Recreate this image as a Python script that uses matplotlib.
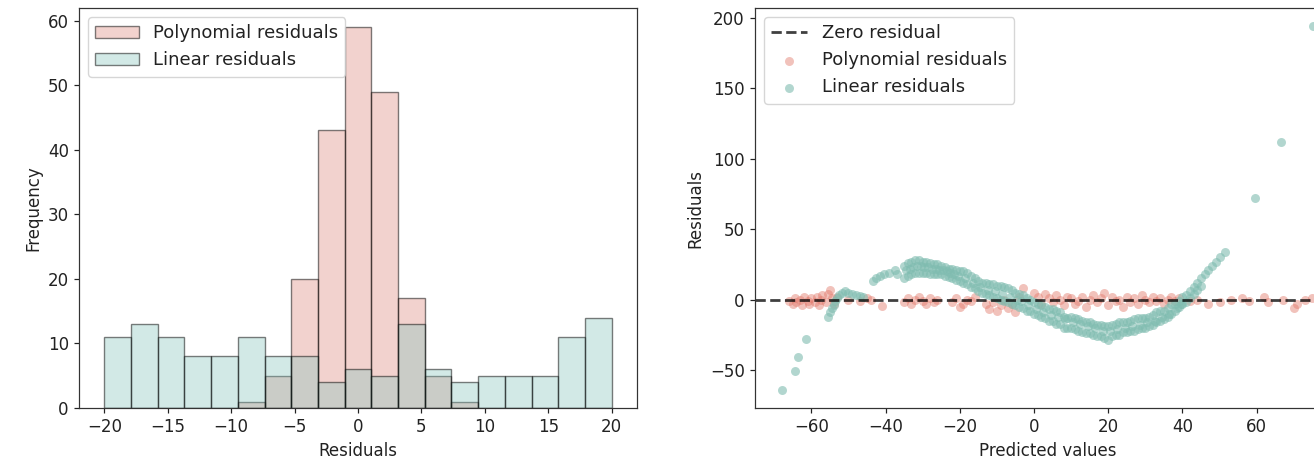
#%% Residual comparison: polynomial vs linear fit
import numpy as np
import matplotlib
matplotlib.use('Agg')
import matplotlib.pyplot as plt

# Histogram: counts per bin, 19 equal bins between -20 and 20
bin_edges = np.linspace(-20, 20, 20)
poly_counts = [0, 0, 0, 0, 0, 1, 5, 20, 43, 59, 49, 17, 5, 1, 0, 0, 0, 0, 0]
lin_counts = [11, 13, 11, 8, 8, 11, 8, 8, 4, 6, 5, 13, 6, 4, 5, 5, 5, 11, 14]

# Scatter: (predicted value, residual)
poly_x = [-66, -65, -64.5, -64, -63, -62.5, -62, -61, -60.5, -60, -59, -58.5, -58, -57.5, -57,
          -56, -55.5, -55, -54.5, -54, -53, -50, -47, -45, -44, -40.9,
          -35, -34, -33, -32, -31, -30, -29, -28, -27, -26,
          -22, -21, -20, -19, -18, -17, -16,
          -13, -12, -11, -10, -9, -8, -7, -6, -5, -4, -3,
          0, 1, 2, 3, 4, 5, 6, 7, 8, 9, 10, 11, 12, 13, 14, 15, 16, 17, 18, 19,
          20, 21, 22, 23, 24, 25, 26, 27, 28, 29, 30, 31, 32, 33, 34, 35, 36, 37, 38, 39,
          42, 44, 47, 50, 53, 56, 58, 62, 63, 67, 70, 71, 73, 75]
poly_y = [-1, -3, 1, -2, 0, -4, 2, -1, -3, 1, -2, 2, -4, 0, 3,
          -2, 4, 7, 1, -3, 2, 0, -1, 1, 0, -4.7,
          -2, 1, -3, 0, 2, -1, -3, 1, -2, 0,
          -2, 1, -5, -3, 0, -1, 2,
          -3, -7, -2, -8, -4, 0, -6, -3, -9, 2, 8,
          5, 2, -3, 4, 1, -2, 3, 0, -4, 2, 1, -3, -1, 2, -5, 0, 3, -2, 1, 5,
          -4, 2, -1, 0, -5, 2, -2, 1, -3, 3, 0, -2, 2, -1, 1, -3, 0, 2, -1, 1,
          -1, 0, -3, -2, 0, 1, -1, 2, -2, 0, -6, -3, 0, 1]

lin_x = [-68, -64.5, -63.5, -61.5,
         -55.5, -55, -54.5, -54, -53.5, -53, -52.5, -51.8, -51, -50, -49, -48, -47, -46,
         -43.5, -42.5, -41.5, -40.5, -39, -37.5, -37,
         -35, -34, -33, -32, -31, -30, -29, -28, -27, -26, -25, -24, -23, -22, -21, -20,
         -35, -34, -33, -32, -31, -30, -29, -28, -27, -26, -25, -24, -23, -22, -21, -20,
         -34.5, -33.5, -32.5, -31.5, -30.5, -29.5, -28.5, -27.5, -26.5, -25.5, -24.5, -23.5, -22.5, -21.5, -20.5,
         -19, -18, -17, -16, -15, -14, -13, -12, -11, -10, -9, -8, -7, -6, -5,
         -19, -18, -17, -16, -15, -14, -13, -12, -11, -10, -9, -8, -7, -6, -5,
         -18.5, -16.5, -14.5, -12.5, -10.5, -8.5, -6.5, -4.5,
         -4, -3, -2, -1, 0, 1, 2, 3, 4, 5, 6, 7, 8, 9, 10, 11, 12, 13, 14, 15, 16, 17, 18, 19, 20,
         21, 22, 23, 24, 25, 26, 27, 28, 29, 30, 31, 32, 33, 34, 35, 36, 37, 38, 39, 40,
         -4, -3, -2, -1, 0, 1, 2, 3, 4, 5, 6, 7, 8, 9, 10, 11, 12, 13, 14, 15, 16, 17, 18, 19, 20,
         21, 22, 23, 24, 25, 26, 27, 28, 29, 30, 31, 32, 33, 34, 35, 36, 37, 38, 39, 40,
         -3.5, -1.5, 0.5, 2.5, 4.5, 6.5, 8.5, 10.5, 12.5, 14.5, 16.5, 18.5, 20.5,
         22.5, 24.5, 26.5, 28.5, 30.5, 32.5, 34.5, 36.5, 38.5, 39.5,
         41, 42, 43, 44, 45, 46, 47, 48, 49, 50, 51.5,
         41, 42, 43, 44, 45,
         59.5, 66.5, 75.3]
lin_y = [-64, -51, -41, -28,
         -12, -9, -6, -4, -1, 1, 3, 5, 6, 5, 4, 3, 2.5, 1.5,
         13, 15, 17, 18, 19, 21, 18,
         24, 26, 27, 28, 28, 27, 27, 26, 25, 25, 24, 23, 22, 22, 21, 20,
         15, 17, 18, 19, 19, 19, 19, 18, 18, 18, 18, 17, 16, 15, 14, 13,
         21, 22, 23, 24, 24, 23, 23, 22, 22, 21, 21, 20, 19, 18, 17,
         20, 19, 17, 15, 13, 12, 12, 11, 11, 10, 10, 9, 8, 7, 5,
         12, 11, 9, 8, 6, 5, 4, 3, 2, 1, 0, -1, -2, -3, -4,
         15, 12, 9, 7, 6, 4, 2, 0,
         4, 3, 1, 0, -2, -3, -4, -5, -7, -7, -8, -9, -12, -13, -12, -13, -14, -15, -16, -16, -17, -18, -18, -19, -19,
         -18, -17, -16, -16, -16, -15, -14, -13, -13, -13, -12, -11, -9, -8, -8, -6, -3, -3, -1, 2,
         -5, -6, -8, -8, -10, -11, -12, -13, -15, -15, -17, -17, -20, -20, -20, -21, -22, -23, -24, -24, -25, -26, -26, -27, -29,
         -26, -25, -25, -23, -23, -22, -22, -21, -20, -20, -19, -18, -16, -15, -14, -12, -10, -8, -5, -3,
         -1, -4, -7, -9, -11, -12, -14, -16, -17, -19, -20, -22, -22,
         -21, -20, -19, -18, -16, -15, -12, -10, -6, -3,
         3, 6, 9, 12, 15, 18, 21, 24, 27, 30, 34,
         -2, 1, 4, 7, 10,
         72, 112, 194]

#%% Plot
f = 1.1  # line scale from the original render
plt.rcParams.update({'font.size': 12, 'legend.fontsize': 13, 'axes.linewidth': 0.8 * f,
                     'axes.edgecolor': '#333333', 'text.color': '#222222',
                     'axes.labelcolor': '#222222', 'xtick.color': '#222222', 'ytick.color': '#222222',
                     'xtick.major.size': 3.5 * f, 'ytick.major.size': 3.5 * f,
                     'xtick.major.width': 0.8 * f, 'ytick.major.width': 0.8 * f})

fig = plt.figure(figsize=(13.14, 4.66), dpi=100)
ax1 = fig.add_axes([79 / 1314, 58 / 466, 558 / 1314, 400 / 466])
ax2 = fig.add_axes([755 / 1314, 58 / 466, 585 / 1314, 400 / 466])

centers = (bin_edges[:-1] + bin_edges[1:]) / 2
ax1.hist(centers, bins=bin_edges, weights=poly_counts, label='Polynomial residuals',
         facecolor=(0.85, 0.47, 0.42, 0.33), edgecolor=(0, 0, 0, 0.5), linewidth=1)
ax1.hist(centers, bins=bin_edges, weights=lin_counts, label='Linear residuals',
         facecolor=(0.5, 0.76, 0.73, 0.35), edgecolor=(0, 0, 0, 0.5), linewidth=1)
ax1.set_xlabel('Residuals')
ax1.set_ylabel('Frequency')
ax1.set_xticks([-20, -15, -10, -5, 0, 5, 10, 15, 20])
ax1.legend(loc='upper left', handlelength=2.4)

ax2.axhline(0, color='black', linestyle='--', linewidth=2, alpha=0.75, label='Zero residual')
ax2.scatter(poly_x, poly_y, s=42, color='#e2786a', alpha=0.45, linewidths=0, label='Polynomial residuals')
ax2.scatter(lin_x, lin_y, s=42, color='#7fbcb0', alpha=0.6, linewidths=0, label='Linear residuals')
ax2.set_xticks([-60, -40, -20, 0, 20, 40, 60])
ax2.set_xlabel('Predicted values')
ax2.set_ylabel('Residuals')
ax2.legend(loc='upper left')

plt.savefig('out.png', dpi=100)
plt.close()
